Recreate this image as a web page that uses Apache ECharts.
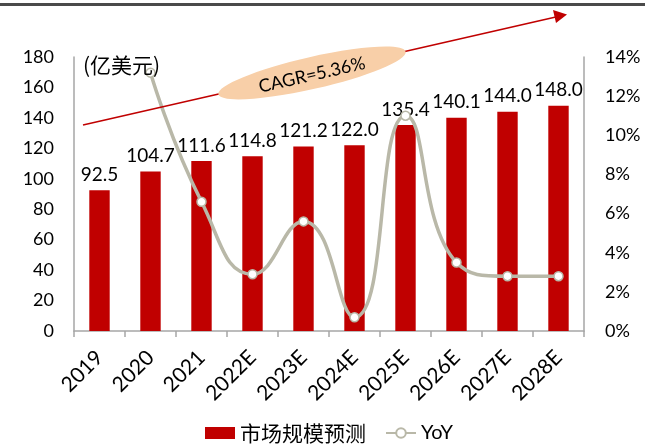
<!DOCTYPE html>
<html>
<head>
<meta charset="utf-8">
<script src="https://cdn.jsdelivr.net/npm/echarts@6/dist/echarts.min.js"></script>
<style>html,body{margin:0;padding:0;background:#fff;}#c{width:645px;height:444px;}</style>
</head>
<body>
<div id="c"></div>
<script>
var categories = ['2019','2020','2021','2022E','2023E','2024E','2025E','2026E','2027E','2028E'];
var marketSize = [92.5,104.7,111.6,114.8,121.2,122.0,135.4,140.1,144.0,148.0];
var yoy = [null,13.2,6.6,2.9,5.6,0.7,11.0,3.5,2.8,2.8];
var leftTicks = {min:0, max:180, interval:20};
var rightTicks = {min:0, max:14, interval:2};
var seriesNames = ['市场规模预测','YoY'];
var unitText = '(亿美元)';
var cagrText = 'CAGR=5.36%';

var FONT = 'Lato, "Noto Sans CJK SC", sans-serif';
var chart = echarts.init(document.getElementById('c'), null, {renderer:'canvas'});
var ang = Math.atan2(125-15, 565-83);
chart.setOption({
  animation:false,
  textStyle:{fontFamily:FONT},
  grid:{left:74, right:61, top:57, bottom:113, containLabel:false},
  legend:{
    top:419, left:205, itemGap:19, itemWidth:30, itemHeight:12, padding:[2,5,2,0],
    textStyle:{fontSize:21, color:'#000', fontFamily:'"Noto Sans CJK SC", sans-serif', lineHeight:24},
    data:[{name:seriesNames[0], icon:'rect'},{name:seriesNames[1], textStyle:{fontSize:20, fontFamily:FONT}}]
  },
  xAxis:{
    type:'category', data:categories,
    axisLine:{lineStyle:{color:'#a6a6a6', width:1.5}},
    axisTick:{show:true, length:6, lineStyle:{color:'#a6a6a6', width:1.5}},
    axisLabel:{rotate:45, fontSize:21, color:'#000', margin:23, interval:0}
  },
  yAxis:[
    {type:'value', min:leftTicks.min, max:leftTicks.max, interval:leftTicks.interval,
     axisLine:{show:true, lineStyle:{color:'#a6a6a6', width:1.5}},
     axisTick:{show:false}, splitLine:{show:false},
     axisLabel:{fontSize:18, color:'#000', margin:20}},
    {type:'value', min:rightTicks.min, max:rightTicks.max, interval:rightTicks.interval,
     axisLine:{show:true, lineStyle:{color:'#a6a6a6', width:1.5}},
     axisTick:{show:false}, splitLine:{show:false},
     axisLabel:{fontSize:18, color:'#000', margin:21, formatter:'{value}%'}}
  ],
  series:[
    {name:seriesNames[0], type:'bar', data:marketSize, barWidth:'40%',
     itemStyle:{color:'#c00000'},
     label:{show:true, position:'top', distance:6, fontSize:19, color:'#000',
            formatter:function(p){return p.value.toFixed(1);}}},
    {name:seriesNames[1], type:'line', yAxisIndex:1, data:yoy, smooth:0.5,
     symbol:'circle', symbolSize:9, showSymbol:true,
     lineStyle:{color:'#b9b8a8', width:3.5},
     itemStyle:{color:'#fff', borderColor:'#b9b8a8', borderWidth:1.5},
     z:5}
  ],
  graphic:[
    {type:'rect', left:0, top:3, shape:{width:645, height:3}, style:{fill:'#4a4a4a'}, z:10},
    {type:'line', shape:{x1:83, y1:125, x2:558, y2:16.5}, style:{stroke:'#c00000', lineWidth:1.6}, z:10},
    {type:'polygon', shape:{points:[[567,14.5],[553,10],[556,23]]}, style:{fill:'#c00000'}, z:10},
    {type:'ellipse', shape:{cx:0, cy:0, rx:96, ry:16}, x:312, y:73, rotation:ang, style:{fill:'#f8cfa8'}, z:11},
    {type:'text', x:312, y:75, rotation:ang, style:{text:cagrText, fontSize:18, fill:'#000', fontFamily:FONT, textAlign:'center', textVerticalAlign:'middle'}, z:12},
    {type:'text', left:83, top:55, style:{text:unitText, fontSize:21, fill:'#000', fontFamily:'"Noto Sans CJK SC", sans-serif'}, z:12}
  ]
});
</script>
</body>
</html>
